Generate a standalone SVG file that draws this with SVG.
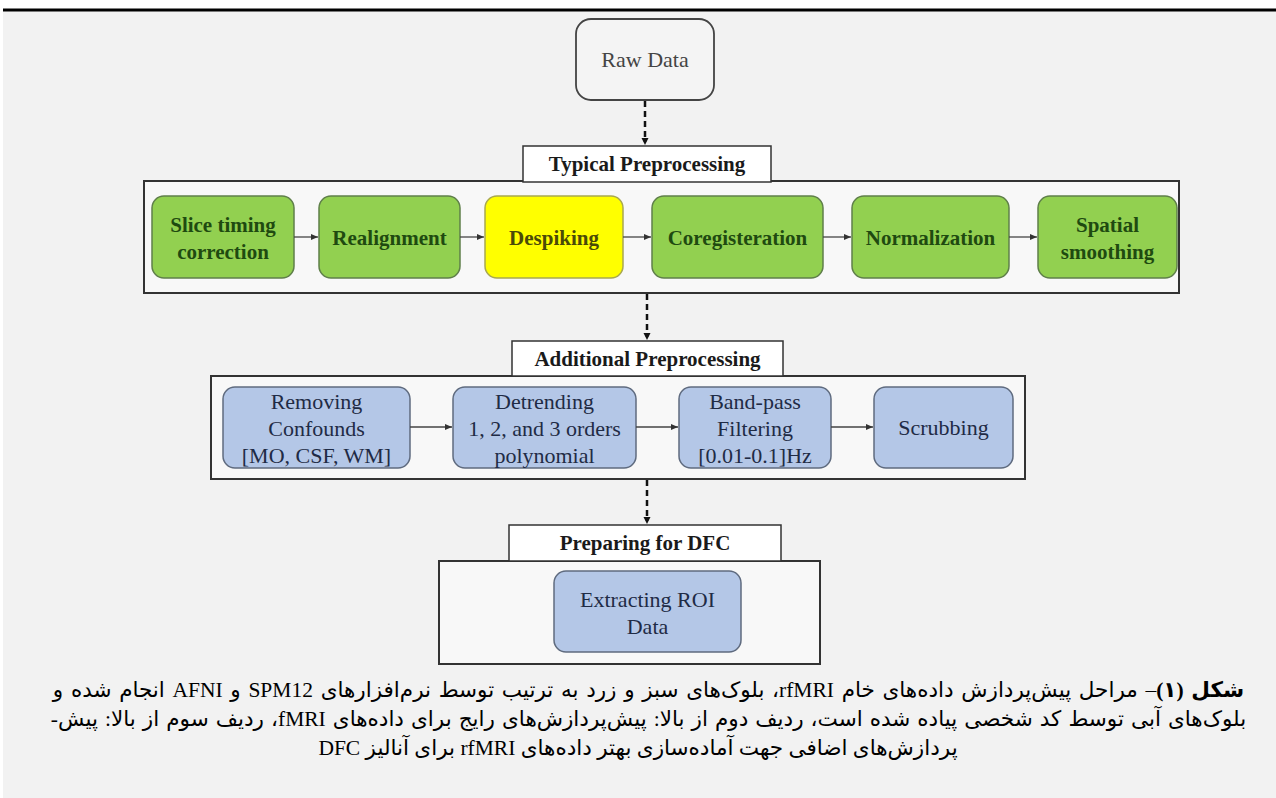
<svg xmlns="http://www.w3.org/2000/svg" width="1276" height="798" viewBox="0 0 1276 798">
<defs>
<marker id="ah" markerWidth="8" markerHeight="8" refX="7" refY="3.5" orient="auto" markerUnits="userSpaceOnUse">
<path d="M0,0.5 L7,3.5 L0,6.5 z" fill="#333"/>
</marker>
<marker id="ahd" markerWidth="8" markerHeight="8" refX="4" refY="4" orient="auto" markerUnits="userSpaceOnUse">
<path d="M0,0.5 L7,4 L0,7.5 z" fill="#111"/>
</marker>
</defs>
<style>
.lbl{font-family:"Liberation Serif","Times New Roman",serif;font-size:21px;font-weight:bold;fill:#1a1a1a;text-anchor:middle}
.hdr{fill:#ffffff;stroke:#333;stroke-width:1.5}
.outer{fill:#f8f8f8;stroke:#333;stroke-width:2}
.g{fill:#92d050;stroke:#5f7f4a;stroke-width:1.5}
.y{fill:#ffff00;stroke:#a8a850;stroke-width:1.5}
.b{fill:#b4c7e7;stroke:#5f6b7f;stroke-width:1.5}
.gt{font-family:"Liberation Serif","Times New Roman",serif;font-size:21px;font-weight:bold;fill:#1f4a10;text-anchor:middle}
.yt{font-family:"Liberation Serif","Times New Roman",serif;font-size:21px;font-weight:bold;fill:#4a4a08;text-anchor:middle}
.bt{font-family:"Liberation Serif","Times New Roman",serif;font-size:22px;fill:#1f2b45;text-anchor:middle}
.sol{stroke:#444;stroke-width:1.3;fill:none;marker-end:url(#ah)}
.dsh{stroke:#111;stroke-width:2.5;stroke-dasharray:6,4;fill:none;marker-end:url(#ahd)}
.cap{font-family:"Liberation Serif","DejaVu Sans",serif;font-size:21.5px;fill:#000;text-anchor:middle}
</style>
<rect x="0" y="0" width="1276" height="798" fill="#ffffff"/>
<rect x="3" y="11" width="1273" height="787" fill="#f2f2f2"/>
<line x1="3" y1="10" x2="1276" y2="10" stroke="#000" stroke-width="3"/>

<g id="raw-data">
<rect x="576" y="19" width="138" height="81" rx="15" fill="#f4f4f4" stroke="#444" stroke-width="1.8"/>
<text x="645" y="67" font-family="'Liberation Serif', serif" font-size="22" fill="#444" text-anchor="middle">Raw Data</text>
</g>

<g id="typical-preprocessing">
<rect class="outer" x="144" y="181" width="1035" height="112"/>
<rect class="hdr" x="523" y="146" width="248" height="36"/>
<text class="lbl" x="647" y="171">Typical Preprocessing</text>
</g>
<g id="slice-timing">
<rect class="g" x="152" y="196" width="142" height="82" rx="12"/>
<text class="gt" x="223" y="232">Slice timing</text>
<text class="gt" x="223" y="259">correction</text>
</g>
<g id="realignment">
<rect class="g" x="319" y="196" width="141" height="82" rx="12"/>
<text class="gt" x="389.5" y="245">Realignment</text>
</g>
<g id="despiking">
<rect class="y" x="485" y="196" width="138" height="82" rx="12"/>
<text class="yt" x="554" y="245">Despiking</text>
</g>
<g id="coregisteration">
<rect class="g" x="652" y="196" width="171" height="82" rx="12"/>
<text class="gt" x="737.5" y="245">Coregisteration</text>
</g>
<g id="normalization">
<rect class="g" x="852" y="196" width="157" height="82" rx="12"/>
<text class="gt" x="930.5" y="245">Normalization</text>
</g>
<g id="spatial-smoothing">
<rect class="g" x="1038" y="196" width="139" height="82" rx="12"/>
<text class="gt" x="1107.5" y="232">Spatial</text>
<text class="gt" x="1107.5" y="259">smoothing</text>
</g>

<g id="additional-preprocessing">
<rect class="outer" x="211" y="376" width="814" height="103"/>
<rect class="hdr" x="512" y="341" width="271" height="35"/>
<text class="lbl" x="647.5" y="366">Additional Preprocessing</text>
</g>
<g id="removing-confounds">
<rect class="b" x="223" y="387" width="187" height="81" rx="12"/>
<text class="bt" x="316.5" y="409">Removing</text>
<text class="bt" x="316.5" y="436">Confounds</text>
<text class="bt" x="316.5" y="463">[MO, CSF, WM]</text>
</g>
<g id="detrending">
<rect class="b" x="453" y="387" width="183" height="81" rx="12"/>
<text class="bt" x="544.5" y="409">Detrending</text>
<text class="bt" x="544.5" y="436">1, 2, and 3 orders</text>
<text class="bt" x="544.5" y="463">polynomial</text>
</g>
<g id="band-pass">
<rect class="b" x="679" y="387" width="152" height="81" rx="12"/>
<text class="bt" x="755" y="409">Band-pass</text>
<text class="bt" x="755" y="436">Filtering</text>
<text class="bt" x="755" y="463">[0.01-0.1]Hz</text>
</g>
<g id="scrubbing">
<rect class="b" x="874" y="387" width="139" height="81" rx="12"/>
<text class="bt" x="943.5" y="435">Scrubbing</text>
</g>

<g id="preparing-for-dfc">
<rect class="outer" x="439" y="561" width="381" height="103"/>
<rect class="hdr" x="509" y="525" width="272" height="36"/>
<text class="lbl" x="645" y="550">Preparing for DFC</text>
</g>
<g id="extracting-roi">
<rect class="b" x="554" y="571" width="187" height="81" rx="12"/>
<text class="bt" x="647.5" y="607">Extracting ROI</text>
<text class="bt" x="647.5" y="634">Data</text>
</g>

<g id="connectors">
<line class="dsh" x1="645" y1="101" x2="645" y2="142"/>
<line class="dsh" x1="647" y1="294" x2="647" y2="337"/>
<line class="dsh" x1="647" y1="480" x2="647" y2="521"/>
<line class="sol" x1="294" y1="237" x2="318" y2="237"/>
<line class="sol" x1="460" y1="237" x2="484" y2="237"/>
<line class="sol" x1="623" y1="237" x2="651" y2="237"/>
<line class="sol" x1="823" y1="237" x2="851" y2="237"/>
<line class="sol" x1="1009" y1="237" x2="1037" y2="237"/>
<line class="sol" x1="410" y1="427" x2="452" y2="427"/>
<line class="sol" x1="636" y1="427" x2="678" y2="427"/>
<line class="sol" x1="831" y1="427" x2="873" y2="427"/>
</g>

<g id="caption">
<text class="cap" x="648.5" y="697" direction="rtl" word-spacing="2.3"><tspan font-weight="bold">شکل (۱)</tspan>– مراحل پیش‌پردازش داده‌های خام rfMRI، بلوک‌های سبز و زرد به ترتیب توسط نرم‌افزارهای SPM12 و AFNI انجام شده و</text>
<text class="cap" x="648.5" y="726" direction="rtl" word-spacing="1.7">بلوک‌های آبی توسط کد شخصی پیاده شده است، ردیف دوم از بالا: پیش‌پردازش‌های رایج برای داده‌های fMRI، ردیف سوم از بالا: پیش-</text>
<text class="cap" x="638" y="755" direction="rtl">پردازش‌های اضافی جهت آماده‌سازی بهتر داده‌های rfMRI برای آنالیز DFC</text>
</g>
</svg>
